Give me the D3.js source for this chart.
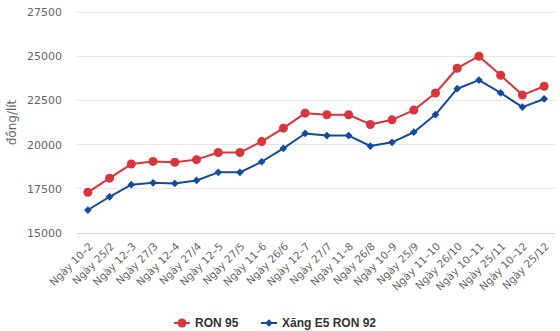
<!DOCTYPE html>
<html><head><meta charset="utf-8">
<script src="https://cdn.jsdelivr.net/npm/d3@7"></script>
<style>html,body{margin:0;padding:0;background:#fff;}</style>
</head><body><svg id="c" width="560" height="331"></svg>
<script>
const categories = ["Ngày 10–2","Ngày 25/2","Ngày 12–3","Ngày 27/3","Ngày 12–4","Ngày 27/4","Ngày 12–5","Ngày 27/5","Ngày 11–6","Ngày 26/6","Ngày 12–7","Ngày 27/7","Ngày 11–8","Ngày 26/8","Ngày 10–9","Ngày 25/9","Ngày 11–10","Ngày 26/10","Ngày 10–11","Ngày 25/11","Ngày 10–12","Ngày 25/12"];
const ron95 = [17300,18100,18900,19050,19000,19150,19550,19550,20170,20930,21780,21690,21690,21140,21400,21950,22920,24320,25000,23920,22800,23300];
const e5ron92 = [16300,17050,17730,17840,17800,17970,18430,18430,19030,19790,20630,20510,20510,19920,20130,20700,21700,23160,23650,22920,22120,22580];
const yTicks = [15000,17500,20000,22500,25000,27500];
const seriesNames = ["RON 95","Xăng E5 RON 92"];
const yTitle = "đồng/lít";

const red = "#d8353c", blue = "#114c9f";
const svg = d3.select("#c");
const L = 77, R = 555, T = 12, B = 233;
const x = d3.scalePoint().domain(categories).range([L, R]).padding(0.5);
const y = d3.scaleLinear().domain([15000, 27500]).range([B, T]);

// grid
svg.append("g").selectAll("line").data(yTicks.slice(1)).join("line")
  .attr("x1", L).attr("x2", R).attr("y1", d => y(d)).attr("y2", d => y(d))
  .attr("stroke", "#e6e6e6").attr("stroke-width", 1).attr("shape-rendering","crispEdges");

// y axis labels
const yAxis = svg.append("g").attr("transform", `translate(${L},0)`)
  .call(d3.axisLeft(y).tickValues(yTicks).tickSize(0).tickPadding(15).tickFormat(d => d));
yAxis.select(".domain").remove();
yAxis.selectAll("text").attr("font-family","DejaVu Sans, sans-serif").attr("font-size", 11).attr("fill", "#666");

// x axis
const xAxis = svg.append("g").attr("transform", `translate(0,${B})`)
  .call(d3.axisBottom(x).tickSize(0).tickPadding(0));
xAxis.select(".domain").attr("stroke", "#ccd6eb").attr("d", `M${L},0.5H${R}`);
xAxis.selectAll("text")
  .attr("font-family","DejaVu Sans, sans-serif").attr("font-size", 10.5).attr("fill", "#666")
  .attr("text-anchor", "end").attr("dy", null).attr("y", 0)
  .attr("transform", "translate(5,14) rotate(-45)");

// y title
svg.append("text").attr("transform", `translate(16,${(T+B)/2}) rotate(-90)`)
  .attr("text-anchor","middle").attr("font-family","DejaVu Sans, sans-serif")
  .attr("font-size", 12).attr("fill", "#666").text(yTitle);

const line = d3.line().x((d, i) => x(categories[i])).y(d => y(d));

function series(data, color, marker) {
  svg.append("path").datum(data).attr("d", line).attr("fill","none")
    .attr("stroke", color).attr("stroke-width", 2).attr("stroke-linejoin","round");
  const g = svg.append("g");
  if (marker === "circle") {
    g.selectAll("circle").data(data).join("circle")
      .attr("cx", (d, i) => x(categories[i])).attr("cy", d => y(d)).attr("r", 4.5).attr("fill", color);
  } else {
    g.selectAll("path").data(data).join("path")
      .attr("d", d3.symbol().type(d3.symbolSquare).size(30))
      .attr("transform", (d, i) => `translate(${x(categories[i])},${y(d)}) rotate(45)`).attr("fill", color);
  }
}
series(ron95, red, "circle");
series(e5ron92, blue, "diamond");

// legend
const leg = svg.append("g").attr("font-family","Liberation Sans, Arial, sans-serif").attr("font-size",12).attr("font-weight","bold").attr("fill","#333");
const items = [{name: seriesNames[0], c: red, m: "circle", x: 174}, {name: seriesNames[1], c: blue, m: "diamond", x: 261}];
items.forEach(it => {
  const g = leg.append("g").attr("transform", `translate(${it.x},323)`);
  g.append("line").attr("x1",0).attr("x2",16).attr("stroke",it.c).attr("stroke-width",2);
  if (it.m === "circle") g.append("circle").attr("cx",8).attr("r",4.5).attr("fill",it.c);
  else g.append("path").attr("d", d3.symbol().type(d3.symbolSquare).size(30)).attr("transform","translate(8,0) rotate(45)").attr("fill",it.c);
  g.append("text").attr("x",21).attr("dy","0.35em").text(it.name);
});
</script></body></html>
